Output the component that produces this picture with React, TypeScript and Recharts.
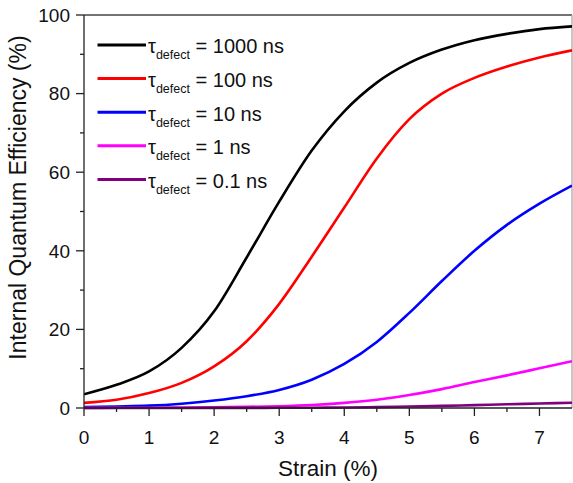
import React from 'react';
import { LineChart, Line, XAxis, YAxis, Legend, ReferenceLine } from 'recharts';

// strain values (%) where each curve is sampled
const strain = [0, 0.5, 1, 1.5, 2, 2.5, 3, 3.5, 4, 4.5, 5, 5.5, 6, 6.5, 7, 7.5];

// internal quantum efficiency (%) for each defect lifetime
const iqe1000ns = [3.5, 5.9, 9.3, 15.3, 24.6, 38.3, 52.5, 65.5, 75.5, 82.8, 87.8, 91.2, 93.6, 95.2, 96.4, 97.1];
const iqe100ns = [1.3, 2.1, 3.8, 6.4, 10.6, 17, 26.5, 38.5, 51, 63.5, 73.5, 80, 84, 86.9, 89.2, 91];
const iqe10ns = [0.25, 0.4, 0.6, 1.1, 1.9, 3, 4.6, 7.2, 11.2, 16.8, 24.2, 32.3, 40, 46.6, 52, 56.6];
const iqe1ns = [0.03, 0.05, 0.08, 0.12, 0.2, 0.3, 0.45, 0.75, 1.3, 2.1, 3.3, 4.8, 6.6, 8.3, 10.1, 11.9];
const iqe01ns = [0.003, 0.005, 0.008, 0.012, 0.02, 0.03, 0.05, 0.08, 0.14, 0.23, 0.37, 0.53, 0.74, 0.95, 1.15, 1.35];

const tauLabels = ['1000 ns', '100 ns', '10 ns', '1 ns', '0.1 ns'];
const seriesKeys = ['t1000', 't100', 't10', 't1', 't01'];
const seriesValues = [iqe1000ns, iqe100ns, iqe10ns, iqe1ns, iqe01ns];
const seriesColors = ['#000000', '#ff0000', '#0000ff', '#ff00ff', '#800080'];

const xTicks = [0, 0.5, 1, 1.5, 2, 2.5, 3, 3.5, 4, 4.5, 5, 5.5, 6, 6.5, 7];
const yTicks = [0, 10, 20, 30, 40, 50, 60, 70, 80, 90, 100];

const FONT = '"Liberation Sans", Arial, Helvetica, sans-serif';

const data = strain.map((s, i) => {
  const row: Record<string, number> = { strain: s };
  seriesKeys.forEach((k, j) => {
    row[k] = seriesValues[j][i];
  });
  return row;
});

const XTick = (props: any) => {
  const { x, y, payload } = props;
  const major = Number.isInteger(payload.value);
  return (
    <g>
      <line x1={x} x2={x} y1={y} y2={y + (major ? 8 : 4)} stroke="#222" strokeWidth={1.3} />
      {major && (
        <text x={x} y={y + 35.5} textAnchor="middle" fontSize={19} fontFamily={FONT} fill="#111">
          {payload.value}
        </text>
      )}
    </g>
  );
};

const YTick = (props: any) => {
  const { x, y, payload } = props;
  const major = payload.value % 20 === 0;
  return (
    <g>
      <line x1={x - (major ? 8 : 4)} x2={x} y1={y} y2={y} stroke="#222" strokeWidth={1.3} />
      {major && (
        <text x={x - 14} y={y} dy="0.36em" textAnchor="end" fontSize={19} fontFamily={FONT} fill="#111">
          {payload.value}
        </text>
      )}
    </g>
  );
};

// vertical axis title, centred a little above the plot middle
const YTitle = (props: any) => {
  const { viewBox } = props;
  const cx = 26;
  const cy = viewBox ? viewBox.y + viewBox.height / 2 - 14 : 197;
  return (
    <text
      transform={`translate(${cx},${cy}) rotate(-90)`}
      textAnchor="middle"
      fontSize={23}
      fontFamily={FONT}
      fill="#111"
    >
      Internal Quantum Efficiency (%)
    </text>
  );
};

const renderLegend = (props: any) => {
  const payload = [...(props.payload || [])].sort(
    (a: any, b: any) => tauLabels.indexOf(a.value) - tauLabels.indexOf(b.value)
  );
  return (
    <svg width={240} height={180} style={{ display: 'block' }}>
      {payload.map((entry: any, i: number) => {
        const cy = 25 + i * 33.6;
        return (
          <g key={entry.value}>
            <line x1={12.5} x2={61} y1={cy} y2={cy} stroke={entry.color} strokeWidth={3} />
            <text x={63} y={cy + 8.3} fontSize={20} fontFamily={FONT} fill="#111">
              <tspan>τ</tspan>
              <tspan dy={6} fontSize={12.5}>defect</tspan>
              <tspan dy={-6}>{` = ${entry.value}`}</tspan>
            </text>
          </g>
        );
      })}
    </svg>
  );
};

export default function App() {
  return (
    <div style={{ position: 'absolute', left: 0, top: 0, width: 573, height: 483, background: '#fff' }}>
      <LineChart
        width={573}
        height={483}
        data={data}
        margin={{ top: 15, right: 1, bottom: 0, left: 0 }}
      >
        <XAxis
          dataKey="strain"
          type="number"
          domain={[0, 7.5]}
          ticks={xTicks}
          allowDataOverflow
          height={75}
          tickSize={0}
          tickMargin={0}
          tick={<XTick />}
          axisLine={{ stroke: '#222', strokeWidth: 1.3 }}
          tickLine={false}
          label={{
            value: 'Strain (%)',
            position: 'insideBottom',
            offset: 7,
            fontSize: 22.5,
            fontFamily: FONT,
            fill: '#111',
          }}
        />
        <YAxis
          type="number"
          domain={[0, 100]}
          ticks={yTicks}
          width={84}
          tickSize={0}
          tickMargin={0}
          tick={<YTick />}
          axisLine={{ stroke: '#222', strokeWidth: 1.3 }}
          tickLine={false}
          label={<YTitle />}
        />
        <ReferenceLine y={100} stroke="#444" strokeWidth={1.3} />
        <ReferenceLine x={7.5} stroke="#aaa" strokeWidth={1.3} />
        <Legend
          layout="vertical"
          align="center"
          verticalAlign="middle"
          content={renderLegend}
          wrapperStyle={{ left: 85, top: 20, width: 240, height: 180 }}
        />
        {seriesKeys.map((k, j) => (
          <Line
            key={k}
            type="monotone"
            dataKey={k}
            name={tauLabels[j]}
            stroke={seriesColors[j]}
            strokeWidth={2.6}
            dot={false}
            isAnimationActive={false}
          />
        ))}
      </LineChart>
    </div>
  );
}
